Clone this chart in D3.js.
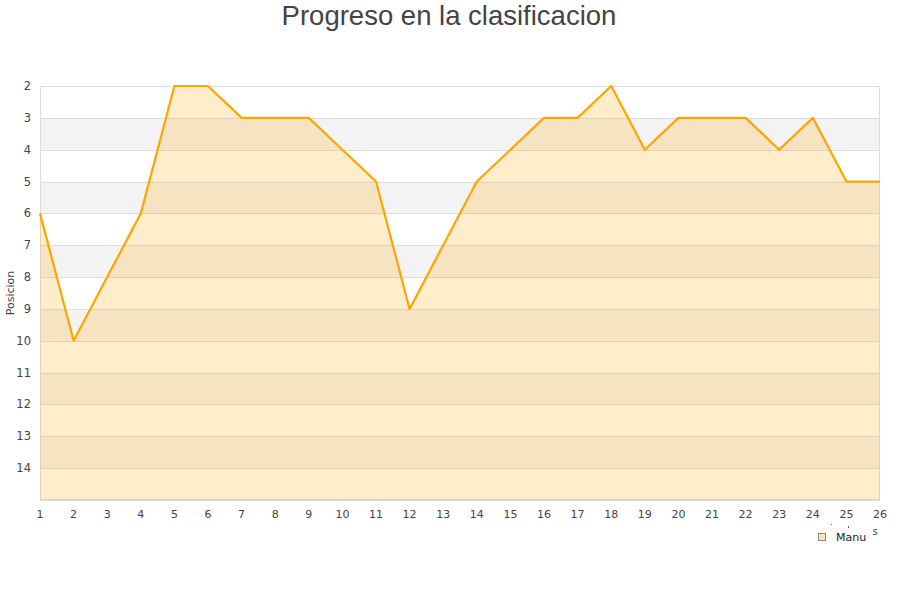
<!DOCTYPE html>
<html><head><meta charset="utf-8">
<script src="https://cdn.jsdelivr.net/npm/d3@7"></script>
<style>body{margin:0;background:#fff}</style>
</head><body>
<svg id="c" width="900" height="600"></svg>
<script>
const jornadas = [1,2,3,4,5,6,7,8,9,10,11,12,13,14,15,16,17,18,19,20,21,22,23,24,25,26];
const posiciones = [6,10,8,6,2,2,3,3,3,4,5,9,7,5,4,3,3,2,4,3,3,3,4,3,5,5];
const yTicks = [2,3,4,5,6,7,8,9,10,11,12,13,14];
const bandStarts = [3,5,7,9,11,13];
const serieNombre = "Manu";
const titulo = "Progreso en la clasificacion";

const svg = d3.select("#c");
const m = {l:40, r:880, t:86, b:500};
const x = d3.scaleLinear().domain([1,26]).range([m.l, m.r]);
const y = d3.scaleLinear().domain([2,15]).range([m.t, m.b]);

// bands
svg.append("g").selectAll("rect").data(bandStarts).join("rect")
  .attr("x", m.l).attr("width", m.r-m.l)
  .attr("y", d=>y(d)).attr("height", d=>y(d+1)-y(d))
  .attr("fill", "#f3f3f3");

// grid
svg.append("g").selectAll("line").data(yTicks.concat([15])).join("line")
  .attr("x1", m.l).attr("x2", m.r)
  .attr("y1", d=>Math.round(y(d))+0.5).attr("y2", d=>Math.round(y(d))+0.5)
  .attr("stroke", "#dddddd").attr("stroke-width", 1);

// border
svg.append("rect").attr("x", m.l+0.5).attr("y", m.t+0.5)
  .attr("width", m.r-m.l-1).attr("height", m.b-m.t-1)
  .attr("fill","none").attr("stroke","#dddddd");

const pts = jornadas.map((j,i)=>[j, posiciones[i]]);
const area = d3.area().x(d=>x(d[0])).y0(y(15)).y1(d=>y(d[1]));
svg.append("path").datum(pts).attr("d", area)
  .attr("fill", "rgba(255,165,0,0.2)");
const line = d3.line().x(d=>x(d[0])).y(d=>y(d[1]));
svg.append("path").datum(pts).attr("d", line)
  .attr("fill","none").attr("stroke","#ffa500").attr("stroke-width",2.2)
  .attr("stroke-linejoin","round");

// y axis labels
svg.append("g").selectAll("text").data(yTicks).join("text")
  .attr("x", 31).attr("y", d=>y(d)+4).attr("text-anchor","end")
  .attr("font-family","DejaVu Sans").attr("font-size",11.5).attr("fill","#444")
  .text(d=>d);

// x axis labels
svg.append("g").selectAll("text").data(jornadas).join("text")
  .attr("x", d=>x(d)).attr("y", 518).attr("text-anchor","middle")
  .attr("font-family","DejaVu Sans").attr("font-size",11).attr("fill","#444")
  .text(d=>d);

// y title
svg.append("text").attr("transform","translate(14,293) rotate(-90)")
  .attr("text-anchor","middle").attr("font-family","DejaVu Sans")
  .attr("font-size",11).attr("fill","#444").text("Posicion");

// visible fragments of the x-axis title, mostly hidden behind the legend
svg.append("rect").attr("x", 831).attr("y", 524).attr("width", 1).attr("height", 1).attr("fill","#666");
svg.append("rect").attr("x", 848).attr("y", 526).attr("width", 1).attr("height", 2).attr("fill","#666");
svg.append("text").attr("x", 875).attr("y", 535).attr("text-anchor","middle")
  .attr("font-family","DejaVu Sans").attr("font-size",10).attr("fill","#444")
  .text("s");

// legend
svg.append("rect").attr("x", 818.5).attr("y", 533.5).attr("width", 7).attr("height", 7)
  .attr("fill","#ffe5b4").attr("stroke","#888");
svg.append("text").attr("x", 836).attr("y", 541).attr("font-family","DejaVu Sans")
  .attr("font-size",11).attr("fill","#222").text(serieNombre);

// title
svg.append("text").attr("x", 449).attr("y", 25).attr("text-anchor","middle")
  .attr("font-family","Liberation Sans, Arial").attr("font-size",27.5).attr("fill","#444")
  .text(titulo);
</script>
</body></html>
